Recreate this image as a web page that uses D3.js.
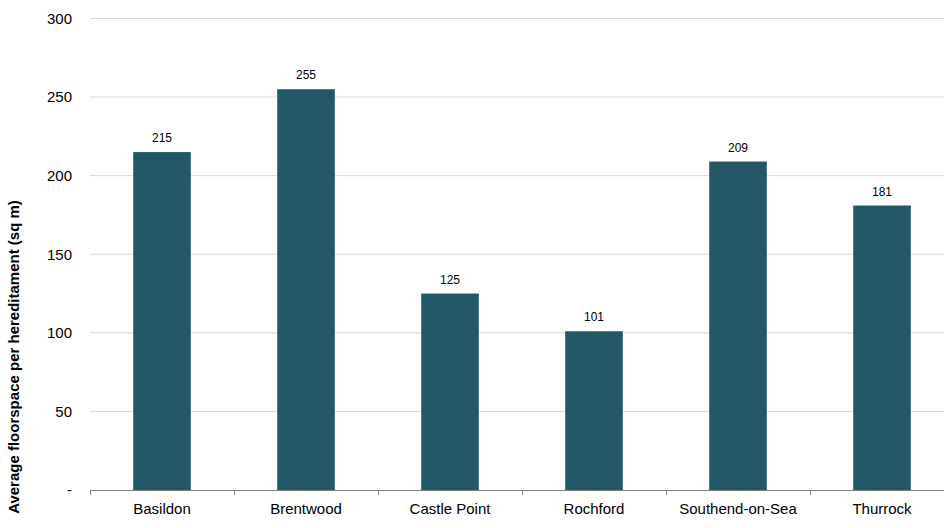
<!DOCTYPE html>
<html><head><meta charset="utf-8">
<script src="https://cdn.jsdelivr.net/npm/d3@7"></script>
<style>body{margin:0;background:#fff}svg{display:block;font-family:"Liberation Sans",Arial,sans-serif}</style>
</head><body><svg id="c" width="944" height="528"></svg>
<script>
const categories = ["Basildon","Brentwood","Castle Point","Rochford","Southend-on-Sea","Thurrock"];
const values = [215,255,125,101,209,181];
const yTicks = [0,50,100,150,200,250,300];
const yTitle = "Average floorspace per hereditament (sq m)";

const svg = d3.select("#c");
const x = d3.scaleBand().domain(categories).range([90,954]).paddingInner(0.6).paddingOuter(0.3);
const y = d3.scaleLinear().domain([0,300]).range([490,18.5]);

// gridlines
svg.append("g").selectAll("line").data(yTicks.filter(d=>d>0)).join("line")
  .attr("x1",90).attr("x2",944).attr("y1",d=>y(d)).attr("y2",d=>y(d))
  .attr("stroke","#d9d9d9").attr("stroke-width",1);

// y labels
svg.append("g").selectAll("text").data(yTicks).join("text")
  .attr("x",72).attr("y",d=>y(d)).attr("dy","0.35em").attr("text-anchor","end")
  .attr("font-size",15).attr("fill","#000").text(d=>d===0?"-":d);

// bars
svg.append("g").selectAll("rect").data(values).join("rect")
  .attr("x",(d,i)=>x(categories[i])).attr("width",x.bandwidth())
  .attr("y",d=>y(d)).attr("height",d=>y(0)-y(d)).attr("fill","#225866");

// value labels
svg.append("g").selectAll("text").data(values).join("text")
  .attr("x",(d,i)=>x(categories[i])+x.bandwidth()/2).attr("y",d=>y(d)-10)
  .attr("text-anchor","middle").attr("font-size",12).attr("fill","#000").text(d=>d);

// x axis
const step = x.step();
const ax = svg.append("g");
ax.append("line").attr("x1",90).attr("x2",954).attr("y1",490.5).attr("y2",490.5).attr("stroke","#7f7f7f").attr("stroke-width",1.2);
ax.selectAll("line.t").data(d3.range(categories.length+1)).join("line").attr("class","t")
  .attr("x1",i=>90+i*step+0.5).attr("x2",i=>90+i*step+0.5).attr("y1",490).attr("y2",495)
  .attr("stroke","#7f7f7f").attr("stroke-width",1);
ax.selectAll("text").data(categories).join("text")
  .attr("x",d=>x(d)+x.bandwidth()/2).attr("y",509).attr("dy","0.35em").attr("text-anchor","middle")
  .attr("font-size",15).attr("fill","#000").text(d=>d);

// y title
svg.append("text").attr("transform","translate(19,357) rotate(-90)").attr("text-anchor","middle")
  .attr("font-size",15).attr("font-weight","bold").attr("fill","#000").text(yTitle);
</script></body></html>
